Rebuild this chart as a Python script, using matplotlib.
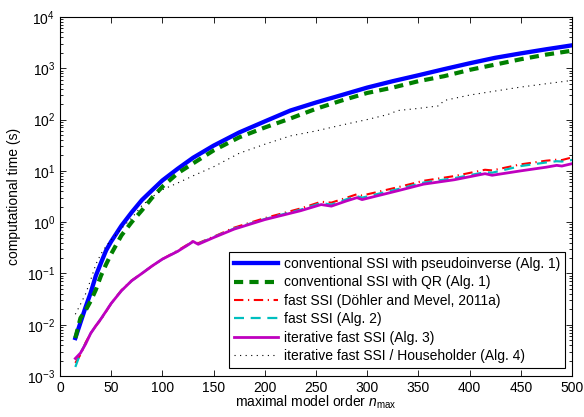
import numpy as np
import matplotlib
matplotlib.use("Agg")
import matplotlib.pyplot as plt
from matplotlib.ticker import LogLocator, NullFormatter, MultipleLocator

### DATA ###
# conventional SSI, pseudoinverse and QR
n_conv = [15, 20, 25, 30, 35, 40, 45, 50, 60, 70, 80, 90, 100, 115, 130, 150, 175,
          200, 225, 250, 275, 300, 325, 350, 375, 400, 425, 450, 475, 500]
t_pinv = [0.0055, 0.011, 0.022, 0.042, 0.09, 0.16, 0.28, 0.42, 0.85, 1.55, 2.7, 4.2,
          6.5, 11, 18, 31, 56, 92, 150, 215, 300, 420, 560, 730, 960, 1250, 1600,
          1950, 2350, 2800]
t_qr = [0.0055, 0.0135, 0.019, 0.029, 0.048, 0.09, 0.15, 0.24, 0.55, 1.0, 1.7, 3.0,
        4.9, 9, 14, 25, 45, 70, 105, 162, 235, 330, 420, 560, 700, 930, 1180,
        1500, 1850, 2200]

# iterative fast SSI / Householder
n_hh = [15, 20, 25, 30, 35, 40, 45, 50, 60, 70, 80, 90, 100, 115, 130, 150, 175, 200,
        225, 250, 275, 300, 320, 330, 350, 370, 375, 400, 425, 450, 475, 500]
t_hh = [0.016, 0.025, 0.04, 0.075, 0.15, 0.24, 0.34, 0.45, 0.75, 1.2, 2.1, 3.1, 4.3,
        5.8, 8.0, 12, 22, 33, 48, 60, 78, 100, 125, 150, 165, 185, 235, 300, 360,
        430, 500, 580]

# fast variants
n_fast = [15, 20, 25, 30, 35, 40, 50, 60, 70, 80, 90, 100, 115, 125, 130, 135, 150,
          170, 200, 235, 255, 265, 280, 290, 295, 330, 355, 385, 415, 422, 450, 475,
          485, 490, 500]
t_fast_dm = [0.0018, 0.0026, 0.0045, 0.0068, 0.0095, 0.0125, 0.026, 0.047, 0.073,
             0.10, 0.14, 0.19, 0.28, 0.37, 0.43, 0.39, 0.52, 0.78, 1.2, 1.85, 2.5,
             2.4, 3.0, 3.5, 3.3, 4.8, 6.4, 7.9, 10.5, 10.2, 13.4, 15.8, 16.5, 16.2,
             18.3]
t_fast = [0.0015, 0.0028, 0.0043, 0.0068, 0.0095, 0.013, 0.026, 0.046, 0.072, 0.10,
          0.14, 0.19, 0.27, 0.36, 0.42, 0.38, 0.51, 0.75, 1.15, 1.75, 2.35, 2.2, 2.8,
          3.2, 3.0, 4.4, 5.9, 7.2, 9.4, 9.2, 12.4, 14.6, 15.4, 15.2, 16.3]
t_iter = [0.0022, 0.0028, 0.0042, 0.0068, 0.0095, 0.013, 0.026, 0.046, 0.072, 0.10,
          0.14, 0.19, 0.27, 0.36, 0.42, 0.37, 0.50, 0.73, 1.12, 1.67, 2.2, 2.05, 2.6,
          3.0, 2.75, 4.1, 5.5, 6.7, 8.8, 8.2, 10, 11.8, 12.8, 12.4, 13.8]

labels = ["conventional SSI with pseudoinverse (Alg. 1)",
          "conventional SSI with QR (Alg. 1)",
          "fast SSI (Döhler and Mevel, 2011a)",
          "fast SSI (Alg. 2)",
          "iterative fast SSI (Alg. 3)",
          "iterative fast SSI / Householder (Alg. 4)"]

### STYLE ###
plt.rcParams['font.family'] = ['Liberation Sans', 'DejaVu Sans']
plt.rcParams['font.size'] = 10
plt.rcParams['mathtext.fontset'] = 'custom'
plt.rcParams['mathtext.rm'] = 'Liberation Sans'
plt.rcParams['mathtext.it'] = 'Liberation Sans:italic'
plt.rcParams['mathtext.default'] = 'regular'

fig = plt.figure(figsize=(5.84, 4.17), dpi=100)
ax = fig.add_axes([0.1027, 0.0983, 0.8768, 0.8610])

ax.plot(n_conv, t_pinv, color=(0, 0, 1), lw=3.1, label=labels[0])
ax.plot(n_conv, t_qr, color=(0, 0.5, 0), lw=3.0, dashes=(2.2, 1.5), label=labels[1])
ax.plot(n_fast, t_fast_dm, color=(1, 0, 0), lw=1.5, dashes=(4.5, 2.2, 0.6, 2.2),
        label=labels[2])
ax.plot(n_fast, t_fast, color=(0, 0.75, 0.75), lw=1.6, dashes=(4.5, 3), label=labels[3])
ax.plot(n_fast, t_iter, color=(0.75, 0, 0.75), lw=2.0, label=labels[4])
ax.plot(n_hh, t_hh, color='k', lw=0.8, dashes=(1, 4), label=labels[5])

ax.set_yscale('log')
ax.set_xlim(0, 500)
ax.set_ylim(1e-3, 1e4)
ax.xaxis.set_major_locator(MultipleLocator(50))
ax.yaxis.set_major_locator(LogLocator(base=10, numticks=20))
ax.yaxis.set_minor_locator(LogLocator(base=10, subs=np.arange(2, 10), numticks=20))
ax.yaxis.set_minor_formatter(NullFormatter())

ax.tick_params(which='both', direction='in', top=True, right=True, width=0.6)
ax.tick_params(which='major', length=4)
ax.tick_params(which='minor', length=2)
for s in ax.spines.values():
    s.set_linewidth(0.8)

ax.set_xlabel(r'maximal model order $\mathit{n}_{\mathrm{max}}$', labelpad=-1)
ax.set_ylabel('computational time (s)', labelpad=4)

leg = ax.legend(loc='lower right', bbox_to_anchor=(0.986, 0.022), fancybox=False,
                framealpha=1, edgecolor='k', handlelength=3.2, handletextpad=0.4,
                labelspacing=0.32, borderpad=0.35, borderaxespad=0)
leg.get_frame().set_linewidth(0.8)

fig.savefig('out.png', dpi=100)
